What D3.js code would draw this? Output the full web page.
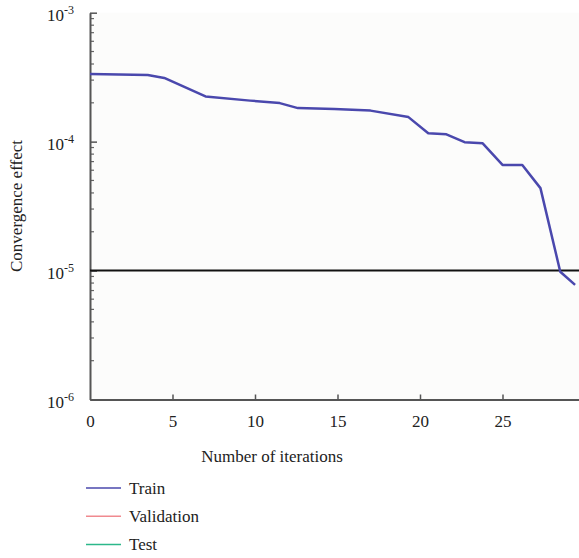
<!DOCTYPE html>
<html>
<head>
<meta charset="utf-8">
<title>Convergence effect</title>
<style>
  body { margin: 0; background: #fff; }
  svg { display: block; font-family: 'Liberation Serif', 'DejaVu Serif', serif; }
  .domain { stroke: #555; stroke-width: 2px; }
  .tick line { stroke: #555; stroke-width: 1.5px; }
  .label { font-size: 17px; fill: #222; }
  .legend text { font-size: 17px; fill: #222; }
</style>
</head>
<body>
<svg width="579" height="558"></svg>
<script src="https://d3js.org/d3.v7.min.js"></script>
<script>
  // training curve
  let iterations = [0, 3.5, 4.5, 7, 9.7, 11.5, 12.6, 14.8, 17, 19.3, 20.5, 21.6, 22.7, 23.8, 25, 26.2, 27.3, 28.5, 29.4];
  let trainValues = [3.35e-4, 3.29e-4, 3.12e-4, 2.24e-4, 2.08e-4, 1.99e-4, 1.82e-4, 1.79e-4, 1.74e-4, 1.55e-4,
                     1.16e-4, 1.14e-4, 9.9e-5, 9.7e-5, 6.6e-5, 6.6e-5, 4.36e-5, 9.8e-6, 7.74e-6];
  let goal = 1e-5;
  let xTicks = [0, 5, 10, 15, 20, 25];
  let yTicks = [1e-6, 1e-5, 1e-4, 1e-3];
  let legendNames = ["Train", "Validation", "Test"];
  let legendColors = ["#4a48ad", "#f08a8f", "#2cb88a"];

  let serif = "'Liberation Serif', 'DejaVu Serif', serif";
  let svg = d3.select("svg");
  let margin = { left: 90 };

  let x = d3.scaleLinear().domain([0, 30]).range([margin.left, 585]);
  let y = d3.scaleLog().domain([1e-6, 1e-3]).range([399.5, 12.7]);

  svg.append("rect")
    .attr("x", margin.left).attr("y", y(1e-3))
    .attr("width", 579 - margin.left).attr("height", y(1e-6) - y(1e-3))
    .attr("fill", "#fcfcfb");

  // minor ticks on the log axis
  let minor = [];
  [-6, -5, -4].forEach(e => {
    for (let k = 2; k <= 9; k++) minor.push(k * Math.pow(10, e));
  });
  svg.append("g")
    .attr("transform", `translate(${margin.left},0)`)
    .selectAll("line")
    .data(minor)
    .join("line")
      .attr("x1", 0).attr("x2", 4)
      .attr("y1", d => y(d)).attr("y2", d => y(d))
      .attr("stroke", "#666").attr("stroke-width", 1.2);

  let yAxis = svg.append("g")
    .attr("transform", `translate(${margin.left},0)`)
    .call(d3.axisRight(y).tickValues(yTicks).tickSize(7).tickSizeOuter(0).tickFormat(""))
    .attr("font-family", serif)
    .attr("font-size", 17);
  yAxis.selectAll(".tick").each(function (d) {
    let e = Math.round(Math.log10(d));
    let t = d3.select(this).append("text")
      .attr("x", -16).attr("dy", "0.45em")
      .attr("text-anchor", "end")
      .attr("fill", "#222")
      .style("font-family", serif);
    t.append("tspan").text("10");
    t.append("tspan").attr("dy", "-0.55em").style("font-size", "12px").text(e);
  });

  let xAxis = svg.append("g")
    .attr("transform", `translate(0,${y(1e-6)})`)
    .call(d3.axisTop(x).tickValues(xTicks).tickSize(5).tickSizeOuter(0))
    .attr("font-family", serif)
    .attr("font-size", 17);
  xAxis.selectAll(".tick text")
    .attr("y", 27).attr("dy", 0)
    .attr("fill", "#222")
    .style("font-family", serif);
  xAxis.select(".tick line").remove();

  svg.append("line")
    .attr("x1", x(0)).attr("x2", 579)
    .attr("y1", y(goal)).attr("y2", y(goal))
    .attr("stroke", "#111").attr("stroke-width", 2);

  let line = d3.line()
    .x((d, i) => x(iterations[i]))
    .y(d => y(d));
  svg.append("path")
    .datum(trainValues)
    .attr("d", line)
    .attr("fill", "none")
    .attr("stroke", legendColors[0])
    .attr("stroke-width", 2.5)
    .attr("stroke-linejoin", "round");

  svg.append("text").attr("class", "label")
    .attr("x", 272).attr("y", 462)
    .attr("text-anchor", "middle")
    .text("Number of iterations");

  svg.append("text").attr("class", "label")
    .attr("transform", "translate(22,206) rotate(-90)")
    .attr("text-anchor", "middle")
    .text("Convergence effect");

  let legend = svg.append("g").attr("class", "legend")
    .selectAll("g")
    .data(legendNames)
    .join("g")
      .attr("transform", (d, i) => `translate(86,${488 + i * 28.2})`);
  legend.append("line")
    .attr("x1", 0).attr("x2", 35)
    .attr("stroke", (d, i) => legendColors[i]).attr("stroke-width", 1.5);
  legend.append("text")
    .attr("x", 43).attr("dy", "0.33em")
    .text(d => d);
</script>
</body>
</html>
